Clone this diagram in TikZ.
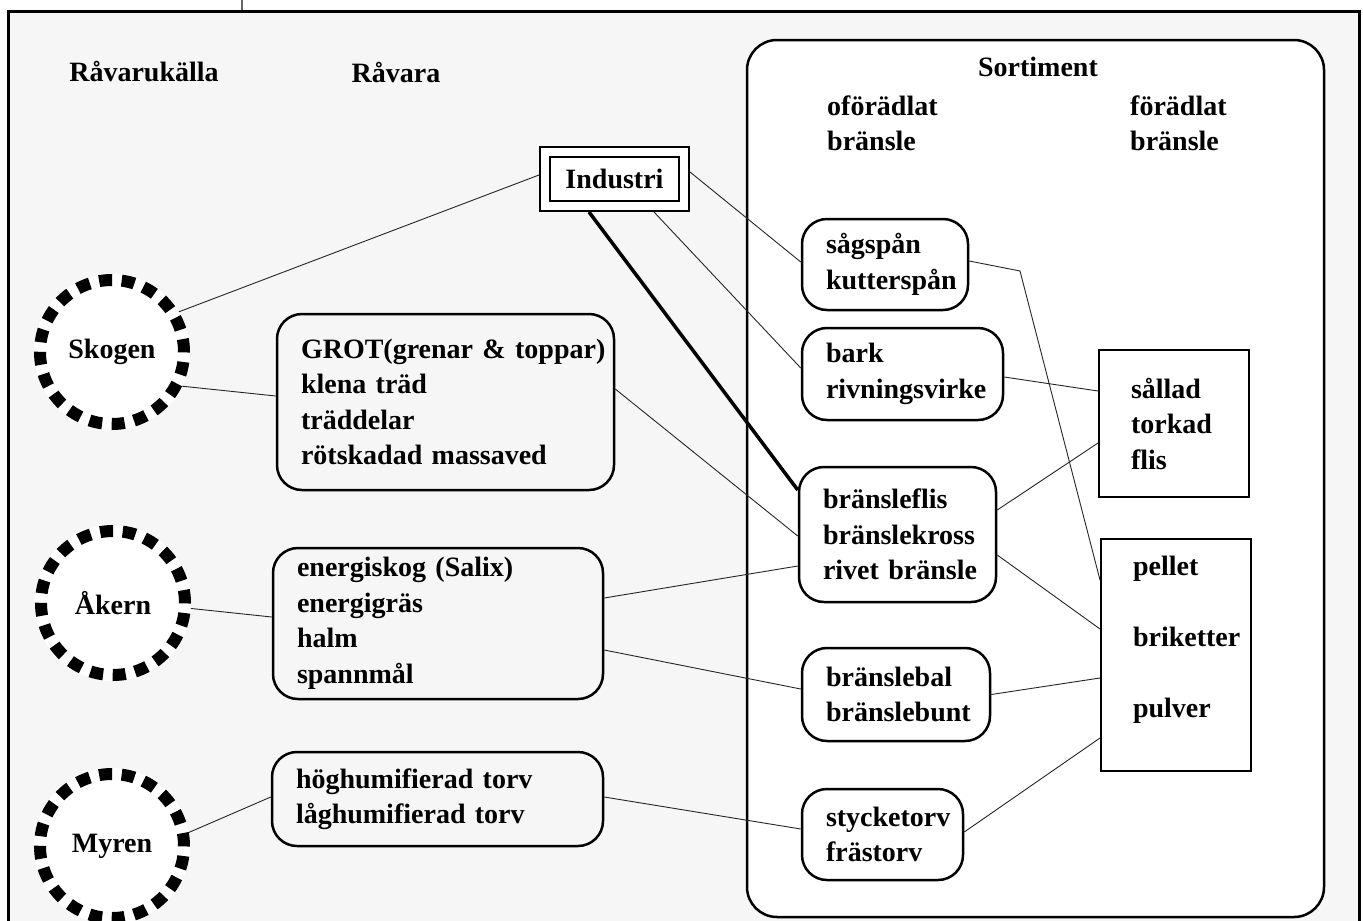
\documentclass[tikz,border=0pt]{standalone}
\usepackage{fontspec}
\setmainfont{Liberation Serif}
\definecolor{paper}{HTML}{F6F6F6}

\begin{document}
\begin{tikzpicture}[x=1pt,y=-1pt]
	\tikzstyle{txt}=[font=\bfseries\fontsize{28}{35.5}\selectfont, align=left, inner sep=0pt]
	\tikzstyle{frame}=[draw=black, line width=3pt, fill=paper]
	\tikzstyle{source}=[circle, txt, minimum size=144pt, fill=white, draw=black, line width=12pt, dash pattern=on 13pt off 9.6pt, preaction={draw=white, solid, line width=12pt}]
	\tikzstyle{sort}=[rectangle, txt, draw=black, line width=2.5pt, rounded corners=25pt, inner xsep=24pt, fill=white]
	\tikzstyle{raw}=[rectangle, txt, draw=black, line width=2.5pt, rounded corners=25pt, inner xsep=24pt]
	\tikzstyle{refined}=[rectangle, txt, draw=black, line width=2pt, inner xsep=32pt, fill=white]
	\tikzstyle{connect}=[draw=black!85, line width=0.9pt]
	\tikzstyle{main}=[draw=black, line width=3.5pt]
	\useasboundingbox (0,0) rectangle (1363,921);
	\clip (0,0) rectangle (1363,921);

	\coordinate (tick) at (242,0);
	\coordinate (tickend) at (242,11);
	\draw[connect, draw=black!60, line width=1.5pt] (tick) -- (tickend);
	\draw[frame] (8,11) rectangle (1359,940);
	
	\node[draw, line width=2.5pt, rounded corners=30pt, fill=white, minimum width=577pt, minimum height=877pt] (sortbox) at (1035.5,478.5) {};
	
	\node[txt] (rkalla)    at (144,72)  {Råvarukälla};
	\node[txt] (ravara)    at (396,72)  {Råvara};
	\node[txt] (sortiment) at (1038,67) {Sortiment};
	\node[txt, anchor=west] (ofor) at (827,123.5)  {oförädlat\\bränsle};
	\node[txt, anchor=west] (for)  at (1130,123.5) {förädlat\\bränsle};
	
	\node[source] (skogen) at (112,352) {Skogen};
	\node[source] (akern)  at (113,603) {Åkern};
	\node[source] (myren)  at (112,846) {Myren};
	
	\node[txt, draw, double, double distance=8pt, line width=2pt, fill=white, outer sep=6pt, minimum width=139pt, minimum height=54pt] (industri) at (614.5,179) {Industri};
	
	\node[raw, text width=289pt, minimum height=176pt] (grot)   at (445.5,402) {\mbox{GROT(grenar \& toppar)}\\\mbox{klena träd}\\träddelar\\\mbox{rötskadad massaved}};
	\node[raw, text width=282pt, minimum height=151pt] (energi) at (438,623.5) {\mbox{energiskog (Salix)}\\energigräs\\halm\\spannmål};
	\node[raw, text width=283pt, minimum height=94pt]  (torv)   at (437.5,799) {\mbox{höghumifierad torv}\\\mbox{låghumifierad torv}};
	
	\node[sort, text width=118pt, minimum height=91pt]  (sagspan) at (885,264.5)   {sågspån\\kutterspån};
	\node[sort, text width=153pt, minimum height=92pt]  (bark)    at (902.5,374)   {bark\\rivningsvirke};
	\node[sort, text width=149pt, minimum height=135pt] (flis)    at (897.5,534.5) {bränsleflis\\bränslekross\\\mbox{rivet bränsle}};
	\node[sort, text width=140pt, minimum height=93pt]  (bal)     at (896,694.5)   {bränslebal\\bränslebunt};
	\node[sort, text width=113pt, minimum height=91pt]  (stycke)  at (882.5,834.5) {stycketorv\\frästorv};
	
	\node[refined, text width=86pt, minimum height=147pt] (sallad) at (1174,423.5) {sållad\\torkad\\flis};
	\node[refined, text width=86pt, minimum height=232pt] (pellet) at (1176,655)   {pellet\\[35.5pt]briketter\\[35.5pt]pulver\\\mbox{}};
	
	\coordinate (knee) at (1020,271);
	
	\path
	(skogen.31.6)  edge [connect] ([yshift=4pt]industri.west)
	(skogen.-26.6) edge [connect] ([yshift=6pt]grot.west)
	(akern.-4)     edge [connect] ([yshift=6.5pt]energi.west)
	(myren.10)     edge [connect] ([yshift=2pt]torv.west)
	
	([yshift=7pt]industri.east)     edge [connect] ([yshift=2.5pt]sagspan.west)
	([xshift=39.5pt]industri.south) edge [connect] ([yshift=6pt]bark.west)
	([xshift=-25.5pt]industri.south) edge [main]   ([yshift=44.5pt]flis.west)
	
	([yshift=13pt]grot.east)     edge [connect] ([yshift=-1.5pt]flis.west)
	([yshift=25.5pt]energi.east) edge [connect] ([yshift=-31.5pt]flis.west)
	([yshift=-26.5pt]energi.east) edge [connect] ([yshift=5.5pt]bal.west)
	([yshift=2pt]torv.east)      edge [connect] ([yshift=5.5pt]stycke.west)
	
	([yshift=-3pt]bark.east)     edge [connect] ([yshift=32.5pt]sallad.west)
	([yshift=24.5pt]flis.east)   edge [connect] ([yshift=-19.5pt]sallad.west)
	([yshift=-20.5pt]flis.east)  edge [connect] ([yshift=26pt]pellet.west)
	(bal.east)                   edge [connect] ([yshift=-23pt]pellet.west)
	([yshift=2.5pt]stycke.east)  edge [connect] ([yshift=-83pt]pellet.west)
	;
	\draw[connect] ([yshift=3.5pt]sagspan.east) -- (knee) -- ([yshift=75pt]pellet.west);
\end{tikzpicture}
\end{document}
